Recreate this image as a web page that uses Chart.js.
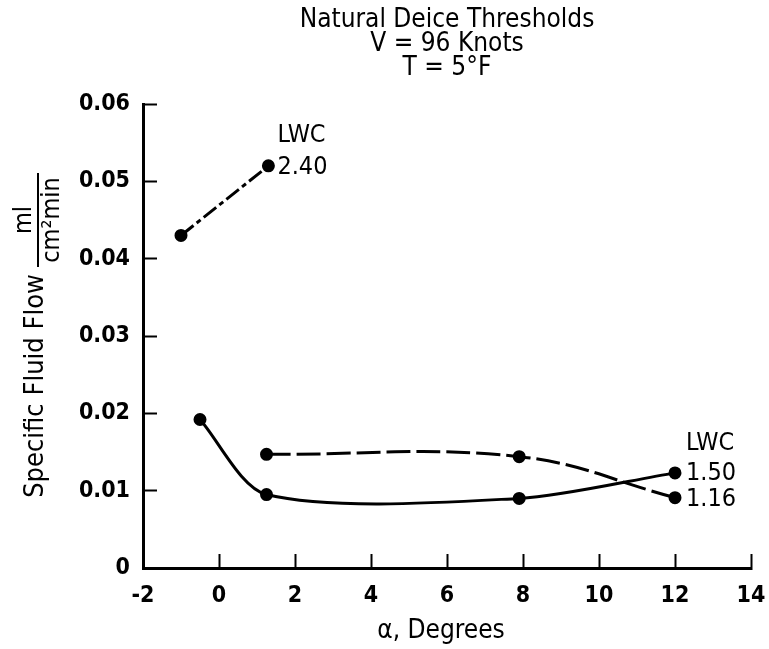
<!DOCTYPE html>
<html><head><meta charset="utf-8">
<script src="https://cdn.jsdelivr.net/npm/chart.js@4.4.1/dist/chart.umd.min.js"></script>
<style>html,body{margin:0;padding:0;background:#fff}#wrap{width:769px;height:649px}</style>
</head><body><div id="wrap"><canvas id="c" width="769" height="649"></canvas></div>
<script>
const titleLines = ['Natural Deice Thresholds', 'V = 96 Knots', 'T = 5°F'];
const xTicks = [-2, 0, 2, 4, 6, 8, 10, 12, 14];
const yTicks = [0, 0.01, 0.02, 0.03, 0.04, 0.05, 0.06];
const lwc240X = [-1.0, 1.3];
const lwc240Y = [0.043, 0.052];
const lwc150X = [-0.5, 1.25, 7.9, 12.0];
const lwc150Y = [0.0192, 0.0095, 0.0090, 0.0123];
const lwc116X = [1.25, 7.9, 12.0];
const lwc116Y = [0.0147, 0.0144, 0.0091];
const lwcNames = ['2.40', '1.50', '1.16'];
const xTitle = 'α, Degrees';
const yTitle = 'Specific Fluid Flow';
const yUnitNum = 'ml';
const yUnitDen = 'cm²min';

const FF = '"Liberation Sans Narrow","DejaVu Sans Condensed","Roboto Condensed",Roboto,sans-serif';
const pts = (xs, ys) => xs.map((x, i) => ({x: x, y: ys[i]}));

const textPlugin = {
  id: 'texts',
  afterDraw(chart) {
    const ctx = chart.ctx, ca = chart.chartArea;
    const xs = chart.scales.x, ys = chart.scales.y;
    ctx.save();
    ctx.fillStyle = '#000';
    ctx.strokeStyle = '#000';
    ctx.textAlign = 'center';
    ctx.textBaseline = 'middle';
    ctx.font = '26px ' + FF;
    const cx = (ca.left + ca.right) / 2;
    titleLines.forEach((t, i) => ctx.fillText(t, cx, 20 + i * 24));
    // x title
    ctx.font = '26px ' + FF;
    ctx.fillText(xTitle, cx - 6, ca.bottom + 63);
    // y title
    ctx.save();
    ctx.translate(36, 386);
    ctx.rotate(-Math.PI / 2);
    ctx.font = '27px ' + FF;
    ctx.fillText(yTitle, 0, 0);
    ctx.restore();
    ctx.save();
    ctx.translate(38, 220);
    ctx.rotate(-Math.PI / 2);
    ctx.font = '25px ' + FF;
    ctx.fillText(yUnitNum, 0, -14);
    ctx.fillText(yUnitDen, 0, 14);
    ctx.lineWidth = 2;
    ctx.beginPath();
    ctx.moveTo(-47, 0); ctx.lineTo(47, 0);
    ctx.stroke();
    ctx.restore();
    // LWC labels
    ctx.font = '25px ' + FF;
    ctx.textAlign = 'left';
    const e240 = {x: xs.getPixelForValue(lwc240X[1]), y: ys.getPixelForValue(lwc240Y[1])};
    ctx.fillText('LWC', e240.x + 9, e240.y - 30);
    ctx.fillText(lwcNames[0], e240.x + 9, e240.y + 2);
    const e150 = {x: xs.getPixelForValue(lwc150X[3]), y: ys.getPixelForValue(lwc150Y[3])};
    const e116 = {x: xs.getPixelForValue(lwc116X[2]), y: ys.getPixelForValue(lwc116Y[2])};
    ctx.fillText('LWC', e150.x + 11, e150.y - 29);
    ctx.fillText(lwcNames[1], e150.x + 11, e150.y + 1);
    ctx.fillText(lwcNames[2], e116.x + 11, e116.y + 2);
    ctx.restore();
  }
};

const common = {
  showLine: true, borderColor: '#000', backgroundColor: '#000',
  pointRadius: 5, pointHoverRadius: 5, borderWidth: 3, clip: false
};

new Chart(document.getElementById('c'), {
  type: 'scatter',
  data: {
    datasets: [
      Object.assign({label: lwcNames[0], data: pts(lwc240X, lwc240Y), borderDash: [16, 4, 5, 4], tension: 0}, common),
      Object.assign({label: lwcNames[1], data: pts(lwc150X, lwc150Y), tension: 0.28}, common),
      Object.assign({label: lwcNames[2], data: pts(lwc116X, lwc116Y), borderDash: [24, 6], tension: 0.4}, common)
    ]
  },
  options: {
    responsive: false, animation: false, devicePixelRatio: 1,
    layout: {padding: {top: 104, right: 18, left: 0, bottom: 0}},
    plugins: {legend: {display: false}, tooltip: {enabled: false}, title: {display: false}},
    scales: {
      x: {
        type: 'linear', min: -2, max: 14,
        afterBuildTicks: s => { s.ticks = xTicks.map(v => ({value: v})); },
        afterFit: s => { s.height = 81; s.paddingRight = 0; s.paddingLeft = 0; },
        ticks: {color: '#000', font: {family: FF, size: 23, weight: 'bold'}, padding: 28, callback: v => String(v)},
        grid: {drawOnChartArea: false, drawTicks: true, tickLength: -14, tickWidth: 2, color: '#000'},
        border: {display: true, color: '#000', width: 3}
      },
      y: {
        type: 'linear', min: 0, max: 0.06,
        afterBuildTicks: s => { s.ticks = yTicks.map(v => ({value: v})); },
        afterFit: s => { s.width = 143; },
        ticks: {color: '#000', font: {family: FF, size: 23, weight: 'bold'}, padding: 27, callback: v => v === 0 ? '0' : v.toFixed(2)},
        grid: {drawOnChartArea: false, drawTicks: true, tickLength: -14, tickWidth: 2, color: '#000'},
        border: {display: true, color: '#000', width: 3}
      }
    }
  },
  plugins: [textPlugin]
});
</script></body></html>
